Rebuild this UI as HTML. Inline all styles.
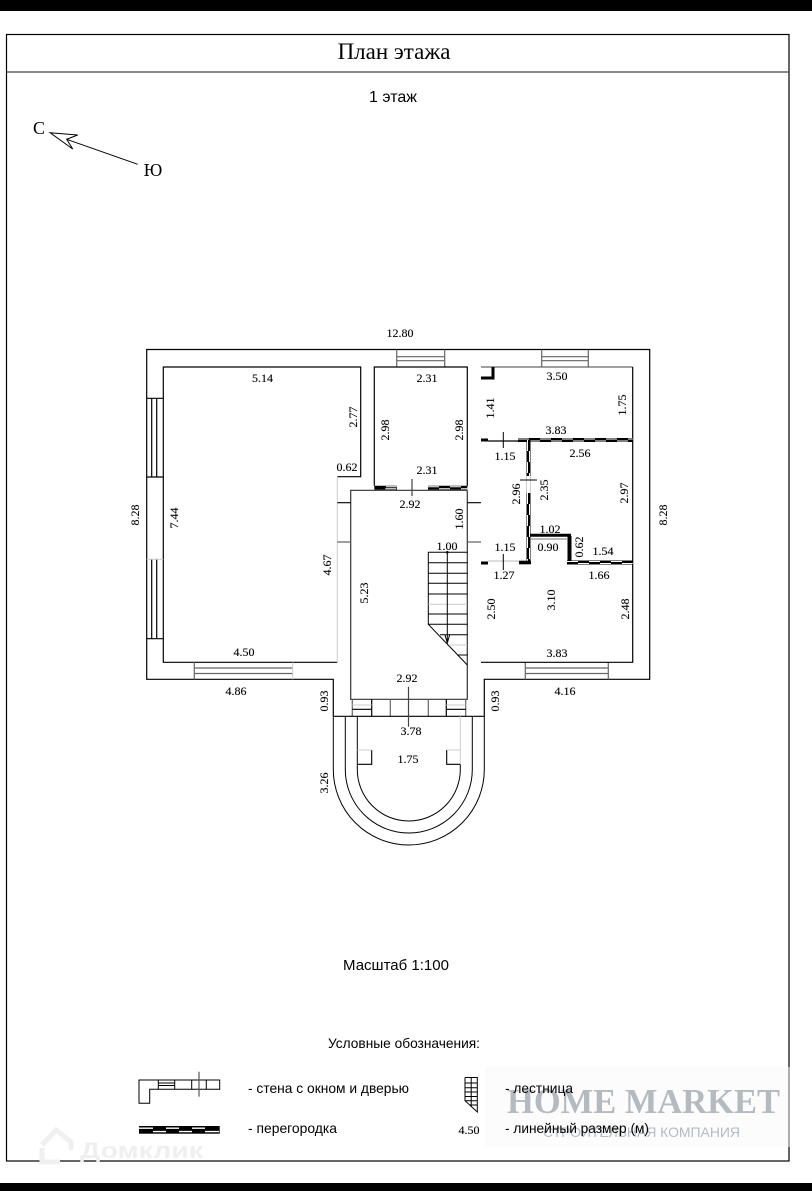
<!DOCTYPE html>
<html lang="ru"><head><meta charset="utf-8"><title>План этажа</title>
<style>
html,body{margin:0;padding:0;background:#fff}
svg{display:block}
.s{font-family:"Liberation Serif",serif;font-size:12px;fill:#000;text-anchor:middle;stroke:#000;stroke-width:.12}
.a{font-family:"Liberation Sans",sans-serif;fill:#000}
.l{fill:none;stroke:#000;stroke-width:1.2}
.g{fill:none;stroke:#666;stroke-width:1.2}
.f{fill:none;stroke:#ccc;stroke-width:1}
.k{fill:none;stroke:#000;stroke-width:4}
.w1{fill:none;stroke:#fff;stroke-width:1;stroke-dasharray:11 11}
.w2{fill:none;stroke:#fff;stroke-width:1;stroke-dasharray:11 11;stroke-dashoffset:11}
</style></head><body>
<svg width="812" height="1191" viewBox="0 0 812 1191" xmlns="http://www.w3.org/2000/svg">
<rect x="0" y="0" width="812" height="11" fill="#000"/>
<rect x="0" y="1183" width="812" height="8" fill="#000"/>
<rect x="6.5" y="34.5" width="782.5" height="1126.5" fill="none" stroke="#000" stroke-width="1.2"/>
<line x1="6.5" y1="72" x2="789" y2="72" stroke="#444" stroke-width="1.2"/>
<text x="394" y="59" font-family="Liberation Serif,serif" font-size="23" text-anchor="middle">План этажа</text>
<text class="a" x="393" y="102" font-size="16" text-anchor="middle">1 этаж</text>

<text x="39" y="134" font-family="Liberation Serif,serif" font-size="18" text-anchor="middle">С</text>
<text x="153" y="176" font-family="Liberation Serif,serif" font-size="18" text-anchor="middle">Ю</text>
<path class="l" d="M137.7 164.3L66.7 139.3M50 132.7L77.7 135L66.7 139.3L72.7 149Z" style="stroke-width:1"/>

<!-- outer walls -->
<path class="l" d="M333.3 716.3V679.3H146.7V349.5H649.7V679.3H484.3V716.3"/>
<!-- left room -->
<path class="l" d="M337.3 476.7H360.7V367H163.3V662.3H337.3"/>
<line class="f" x1="337.3" y1="476.7" x2="337.3" y2="662.3"/>
<!-- left windows -->
<path class="l" d="M146.7 398.3H163.3M146.7 477H163.3M146.7 638.7H163.3M151.7 398.3V477M156.7 398.3V477M151.7 559.3V638.7M156.7 559.3V638.7"/>
<line class="f" x1="146.7" y1="559.3" x2="163.3" y2="559.3"/>
<!-- bottom left window -->
<path class="g" d="M194.3 662.3V679.3M194.3 668H292.7M194.3 673.5H292.7"/>
<line class="f" x1="292.7" y1="662.3" x2="292.7" y2="679.3"/>
<!-- top middle window -->
<path class="g" d="M396.7 349.5V367M444.7 349.5V367M396.7 356.7H444.7M396.7 360.7H444.7"/>
<!-- top right window -->
<path class="g" d="M541.7 349.5V367M588.3 349.5V367M541.7 356.7H588.3M541.7 360.7H588.3"/>
<!-- bottom right window -->
<path class="g" d="M525.3 662.3V679.3M608.3 662.3V679.3M525.3 668H608.3M525.3 673.5H608.3"/>
<!-- middle room -->
<path class="l" d="M374.3 485.7V367H467.3V486"/>
<path class="k" d="M374.3 487.7H397M428 487.7H467.3"/>
<path class="w1" d="M386 486.7H397M428 486.7H467.3"/>
<path class="w2" d="M374.3 488.8H397M428 488.8H467.3"/>
<!-- hall -->
<path d="M467.3 490.3H350.7V699.3H467.3V490.3" fill="none" stroke="#333" stroke-width="1.2"/>
<path class="l" d="M337.3 502.7H350.7M467.3 502.7H481"/>
<path class="g" d="M337.3 542H350.7M467.3 542H481"/>
<line x1="412" y1="479" x2="412" y2="496" stroke="#444" stroke-width="1.2"/>
<!-- right room -->
<path class="g" d="M481 367H632.7"/>
<path class="l" d="M632.7 367V662.3H481"/>
<!-- partitions -->
<path d="M481 378H493V367" fill="none" stroke="#000" stroke-width="3"/>
<path d="M481 440H488" stroke="#000" stroke-width="3"/>
<line class="l" x1="488" y1="441" x2="518" y2="441"/>
<path class="k" d="M518 440H632.7"/>
<path class="w1" d="M518 439H632.7"/>
<path class="w2" d="M518 441H632.7"/>
<path class="k" d="M528.5 440V476M528.5 493V563"/>
<path class="w1" d="M527.5 440V476M527.5 493V563"/>
<path class="w2" d="M529.5 440V476M529.5 493V563"/>
<path class="f" d="M526.5 476V493M530.5 476V493"/>
<path d="M530 535.3H571" stroke="#000" stroke-width="3"/>
<line x1="530" y1="539" x2="567" y2="539" stroke="#777" stroke-width="1"/>
<path d="M569.5 536V561" stroke="#000" stroke-width="4" fill="none"/>
<path class="k" d="M567 562.5H632.7"/>
<path class="w1" d="M567 561.5H632.7"/>
<path class="w2" d="M567 563.5H632.7"/>
<path d="M481 563H488" stroke="#000" stroke-width="3"/>
<path d="M488 561H519" stroke="#bbb" stroke-width="1"/>
<path d="M519 562.5H531" stroke="#000" stroke-width="3.6"/>
<!-- dim ticks -->
<path class="l" d="M503.3 432V448M503.3 554V570M520 480H537" style="stroke-width:1"/>
<!-- stairs -->
<path class="l" d="M467.3 552.3H428.3V624.3L467.3 665M428.3 562.7H467.3M428.3 573.3H467.3M428.3 583.3H467.3M428.3 594H467.3M428.3 614H467.3M428.3 624.3H467.3M440 634.7H467.3M457 655H467.3" style="stroke-width:1"/>
<path class="f" d="M428.3 604.3H467.3M450 645H467.3"/>
<path class="l" d="M447.3 552.3V643M445 635L447.3 643L449.6 635" style="stroke-width:1"/>
<circle cx="447.3" cy="552.3" r="1.3" fill="#000"/>
<!-- entry -->
<path class="g" d="M352.3 699.3V716.3M465.7 699.3V716.3M390.3 699.3V716.3M428.3 699.3V716.3"/>
<path class="l" d="M352.3 709.3H371.7M446.3 709.3H465.7M371.7 699.3V716.3M446.3 699.3V716.3"/>
<path class="f" d="M352.3 705H371.7M446.3 705H465.7"/>
<line class="l" x1="333.3" y1="716.3" x2="484.3" y2="716.3"/>
<line x1="408.5" y1="686.7" x2="408.5" y2="726.7" stroke="#444" stroke-width="1.2"/>
<path class="l" d="M333.3 716.3V769.5A75.5 75.5 0 0 0 484.3 769.5V716.3M345.3 716.3V769.5A63.5 63.5 0 0 0 472.3 769.5V716.3M357.3 716.3V769.5A51.5 51.5 0 0 0 460.3 769.5V764.3" style="stroke-width:1"/>
<path class="l" d="M357.3 764.3H371.7V750M446.7 750V764.3H460.3" style="stroke-width:1.1"/>
<path class="f" d="M357.3 750H371.7M446.7 750H460.3M460.3 716.3V764.3"/>

<!-- horizontal labels -->
<g class="s">
<text x="400" y="337">12.80</text><text x="262.5" y="382">5.14</text><text x="347" y="471">0.62</text>
<text x="427" y="382">2.31</text><text x="427" y="474">2.31</text><text x="410" y="508">2.92</text>
<text x="447" y="550">1.00</text><text x="244" y="656">4.50</text><text x="236" y="695">4.86</text>
<text x="557" y="380">3.50</text><text x="556" y="434">3.83</text><text x="505" y="460">1.15</text>
<text x="580" y="457">2.56</text><text x="550" y="533">1.02</text><text x="548" y="551">0.90</text>
<text x="505" y="551">1.15</text><text x="603" y="555">1.54</text><text x="504" y="579">1.27</text>
<text x="599" y="579">1.66</text><text x="557" y="657">3.83</text><text x="565" y="695">4.16</text>
<text x="407" y="682">2.92</text><text x="411" y="735">3.78</text><text x="408" y="763">1.75</text>
<text x="469" y="1134">4.50</text>
<!-- vertical labels -->
<text transform="translate(357,417) rotate(-90)">2.77</text>
<text transform="translate(389,430) rotate(-90)">2.98</text>
<text transform="translate(463,430) rotate(-90)">2.98</text>
<text transform="translate(178,518) rotate(-90)">7.44</text>
<text transform="translate(139,515) rotate(-90)">8.28</text>
<text transform="translate(667,515) rotate(-90)">8.28</text>
<text transform="translate(331,565) rotate(-90)">4.67</text>
<text transform="translate(368,593) rotate(-90)">5.23</text>
<text transform="translate(463,519) rotate(-90)">1.60</text>
<text transform="translate(494,408) rotate(-90)">1.41</text>
<text transform="translate(626,405) rotate(-90)">1.75</text>
<text transform="translate(520,494) rotate(-90)">2.96</text>
<text transform="translate(548,490) rotate(-90)">2.35</text>
<text transform="translate(628,493) rotate(-90)">2.97</text>
<text transform="translate(583,547) rotate(-90)">0.62</text>
<text transform="translate(495,609) rotate(-90)">2.50</text>
<text transform="translate(555,600) rotate(-90)">3.10</text>
<text transform="translate(629,609) rotate(-90)">2.48</text>
<text transform="translate(328,701) rotate(-90)">0.93</text>
<text transform="translate(499,701) rotate(-90)">0.93</text>
<text transform="translate(328,783) rotate(-90)">3.26</text>
</g>

<text class="a" x="396" y="970" font-size="15" text-anchor="middle">Масштаб 1:100</text>
<text class="a" x="404" y="1048" font-size="14" text-anchor="middle" textLength="152" lengthAdjust="spacingAndGlyphs">Условные обозначения:</text>

<!-- watermarks (under legend text) -->
<rect x="485" y="1067" width="305" height="80" fill="#fcfcfc"/>
<line x1="789" y1="1067" x2="789" y2="1147" stroke="#777" stroke-width="1.2"/>
<text x="643.5" y="1113" font-family="Liberation Serif,serif" font-weight="bold" font-size="34.5" fill="#b3bbc0" text-anchor="middle" textLength="273" lengthAdjust="spacingAndGlyphs">HOME MARKET</text>
<text x="641.5" y="1137" font-family="Liberation Sans,sans-serif" font-size="14" fill="#b3bbc0" text-anchor="middle" textLength="197">СТРОИТЕЛЬНАЯ КОМПАНИЯ</text>
<path d="M42 1145L56 1130L71 1142V1150M60 1162H42V1148" fill="none" stroke="#f0f0f0" stroke-width="5"/>
<text x="80" y="1158" font-family="Liberation Sans,sans-serif" font-weight="bold" font-size="22" fill="#efefef" textLength="123" lengthAdjust="spacingAndGlyphs">Домклик</text>

<!-- legend -->
<path class="l" d="M158.3 1080H139V1103.3H149.7V1089.3H158.3M158.3 1080H219.7V1089.3H158.3M158.3 1080V1089.3M174.7 1080V1089.3M191.7 1080V1089.3M206.3 1080V1089.3" style="stroke-width:1"/>
<path class="l" d="M158.3 1083H174.7M158.3 1085.5H174.7" style="stroke-width:1"/>
<line x1="199" y1="1071.7" x2="199" y2="1096.7" stroke="#555" stroke-width="1.2"/>
<rect x="139" y="1126" width="80.7" height="7.7" fill="#000"/>
<path d="M139 1128.2H153M166 1128.2H179M192 1128.2H205M153 1131.6H166M179 1131.6H192M205 1131.6H219" stroke="#fff" stroke-width="1.4" fill="none"/>
<text class="a" x="248" y="1093" font-size="14" textLength="161" lengthAdjust="spacingAndGlyphs">- стена с окном и дверью</text>
<text class="a" x="248" y="1133" font-size="14" textLength="89" lengthAdjust="spacingAndGlyphs">- перегородка</text>
<path class="l" d="M465 1077.5H477.3V1112L465 1100.7V1077.5M465 1083H477.3M465 1087.7H477.3M465 1092H477.3M465 1096.5H477.3M465 1100.7H477.3M471.2 1077.5V1107M470 1105H477.3" style="stroke-width:1"/>
<text class="a" x="505" y="1093" font-size="14" textLength="68" lengthAdjust="spacingAndGlyphs">- лестница</text>
<text class="a" x="505" y="1133" font-size="14" textLength="144" lengthAdjust="spacingAndGlyphs">- линейный размер (м)</text>
</svg>
</body></html>
